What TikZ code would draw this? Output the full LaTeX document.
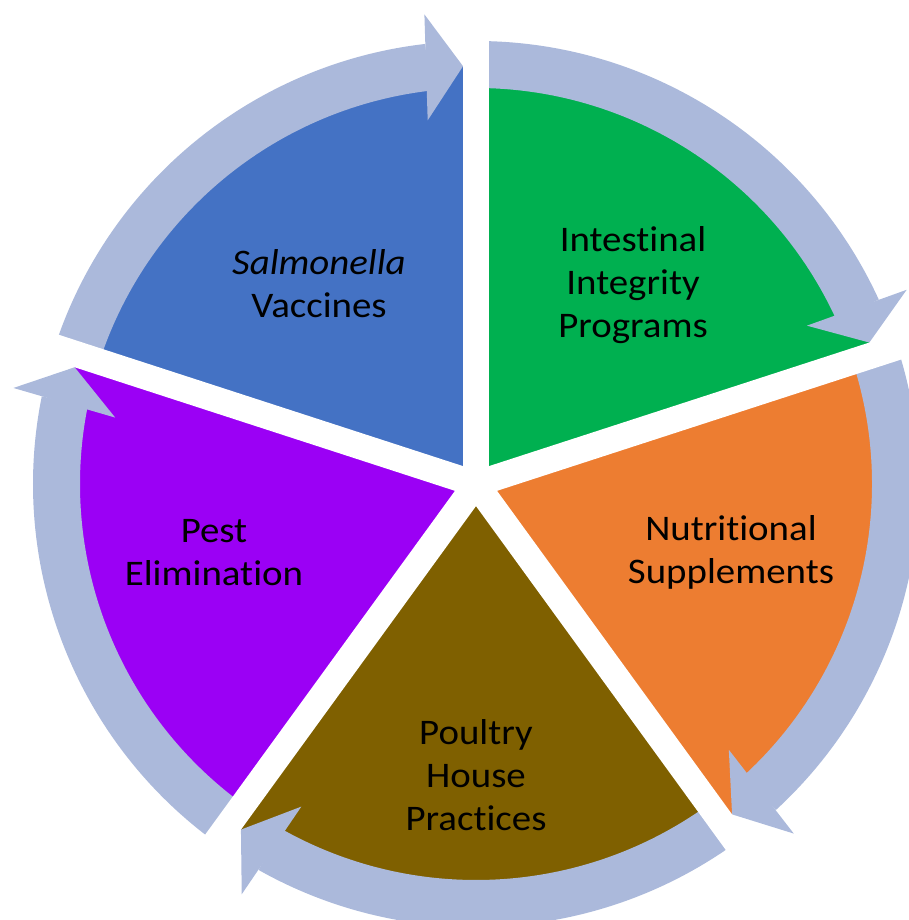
\documentclass[tikz,border=0pt]{standalone}
\usepackage{fontspec}
\setmainfont{Carlito}[FakeStretch=1.08, Ligatures=NoCommon]
\usepackage{tikz}
\usetikzlibrary{positioning, calc}

\definecolor{modra}{RGB}{68,114,196}
\definecolor{zelena}{RGB}{0,176,80}
\definecolor{oranzna}{RGB}{237,125,49}
\definecolor{rjava}{RGB}{127,96,0}
\definecolor{vijolicna}{RGB}{155,0,245}
\definecolor{sivomodra}{RGB}{171,185,219}

\tikzset{
  obroc/.style={fill=sivomodra},
  tekst/.style={align=center, text=black, font=\fontsize{36}{43}\selectfont},
  rez/.style={white, line width=26pt}
}

% izsek kroga: barva, zacetni kot, koncni kot
\newcommand{\Kos}[3]{%
  \fill[#1] (0,0) -- (#2:418pt) arc[start angle=#2, end angle=#3, radius=418pt] -- cycle;
}
% lok s puscico v smeri urinega kazalca
\newcommand{\Puscica}[2]{%
  \pgfmathsetmacro{\kotKonice}{#2+1.78}
  \pgfmathsetmacro{\kotRepa}{#2+6.6}
  \fill[obroc] (#1:396pt) arc[start angle=#1, end angle=\kotRepa, radius=396pt]
    -- (\kotRepa:443pt) arc[start angle=\kotRepa, end angle=#1, radius=443pt] -- cycle;
  \fill[obroc, shift={(\kotKonice:418pt)}, rotate=\kotKonice] (0,0) -- (53,37) -- (-53,37) -- cycle;
}

\begin{document}
\begin{tikzpicture}[x=1pt, y=1pt]
    \useasboundingbox (-476,-436) rectangle (432,484);

    \Kos{modra}{162}{90}
    \Kos{zelena}{90}{18}
    \Kos{oranzna}{18}{-54}
    \Kos{rjava}{-54}{-126}
    \Kos{vijolicna}{-126}{-198}

    \Puscica{162}{90}
    \Puscica{90}{18}
    \Puscica{18}{-54}
    \Puscica{-54}{-126}
    \Puscica{-126}{-198}

    % bele reze med kosi
    \draw[rez] (0,0) -- (90:480pt);
    \draw[rez] (0,0) -- (18:480pt);
    \draw[rez] (0,0) -- (-54:480pt);
    \draw[rez] (0,0) -- (-126:480pt);
    \draw[rez] (0,0) -- (162:480pt);

    \node[tekst] (Vac) at (-157,200) {\textit{Salmonella}\\Vaccines};
    \node[tekst] (Int) at (157,199) {Intestinal\\Integrity\\Programs};
    \node[tekst] (Nut) at (255,-68) {Nutritional\\Supplements};
    \node[tekst] (Pou) at (0,-291) {Poultry\\House\\Practices};
    \node[tekst] (Pes) at (-262,-69) {Pest\\Elimination};
\end{tikzpicture}
\end{document}
